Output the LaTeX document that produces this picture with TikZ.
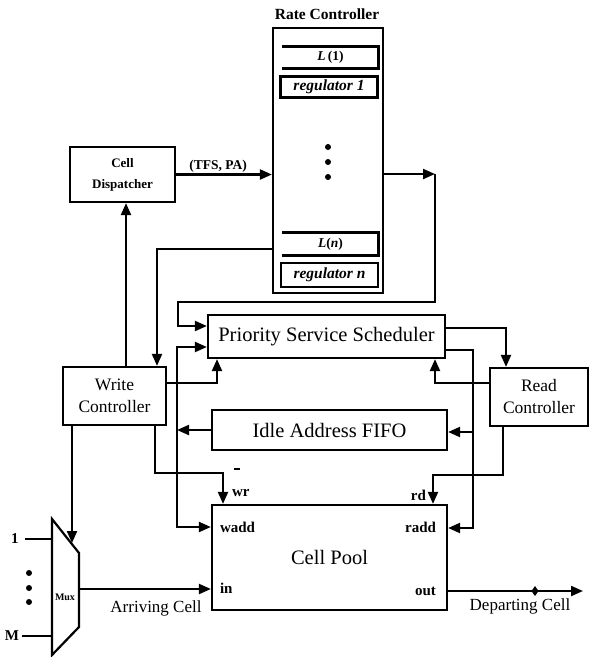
\documentclass[tikz,border=0pt]{standalone}
\usepackage{fontspec}
\setmainfont{Liberation Serif}
\usetikzlibrary{arrows.meta}
\begin{document}
\begin{tikzpicture}[x=1pt,y=-1pt,
  line width=2.1pt,
  box/.style={draw, rectangle, inner sep=0pt, line width=2.2pt, align=center},
  arr/.style={-{Triangle[length=12pt,width=10pt]}},
  lab/.style={font=\bfseries\fontsize{15}{15}\selectfont, inner sep=0pt},
  big/.style={font=\fontsize{20.5}{22}\selectfont},
  mid/.style={font=\fontsize{17.5}{22}\selectfont},
  reg/.style={box, font=\bfseries\itshape\fontsize{15.5}{15.5}\selectfont},
]
\useasboundingbox (0,0) rectangle (591,657);

% Rate controller
\node[box, minimum width=110pt, minimum height=265pt] (RC) at (328,160.5) {};
\node[font=\bfseries\fontsize{15.5}{15.5}\selectfont] (RCt) at (327,14) {Rate Controller};
\node[minimum width=94pt, minimum height=20pt, inner sep=0pt, font=\bfseries\fontsize{13.5}{13.5}\selectfont] (L1) at (330.5,57.5) {{\itshape L}\,(1)};
\draw[line width=2.2pt] (L1.north west) -- (L1.north east) -- (L1.south east) -- (L1.south west);
\node[reg, minimum width=97pt, minimum height=21pt] (R1) at (329,87) {regulator 1};
\fill (328,147) circle (3pt);
\fill (328,162) circle (3pt);
\fill (328,177) circle (3pt);
\node[minimum width=94pt, minimum height=21pt, inner sep=0pt, font=\bfseries\fontsize{13.5}{13.5}\selectfont] (Ln) at (330.5,244) {{\itshape L}({\itshape n})};
\draw[line width=2.2pt] (Ln.north west) -- (Ln.north east) -- (Ln.south east) -- (Ln.south west);
\node[reg, minimum width=97pt, minimum height=24pt] (Rn) at (329.5,275) {regulator {\itshape n}};

% Cell dispatcher
\node[box, minimum width=105pt, minimum height=55pt, font=\bfseries\fontsize{13}{21}\selectfont] (CD) at (122.5,174.5) {Cell\\Dispatcher};

% Main blocks
\node[box, big, minimum width=237pt, minimum height=43pt] (PSS) at (326.5,336.5) {Priority Service Scheduler};
\node[box, mid, minimum width=103pt, minimum height=58pt] (WC) at (114.5,396) {Write\\Controller};
\node[box, mid, minimum width=98pt, minimum height=58pt] (RdC) at (539,397) {Read\\Controller};
\node[box, big, minimum width=235pt, minimum height=40pt] (FIFO) at (329.5,430) {Idle Address FIFO};
\node[box, big, minimum width=235pt, minimum height=105pt] (CP) at (329.5,557.5) {Cell Pool};

% Cell pool port labels
\node[lab, anchor=west] (wadd) at (219,527) {wadd};
\node[lab, anchor=west] (inl) at (219,588) {in};
\node[lab, anchor=east] (radd) at (437,527) {radd};
\node[lab, anchor=east] (outl) at (437,591) {out};
\node[lab, anchor=west] (wrl) at (231,493) {wr};
\draw[line width=1.2pt] (234,469) -- (240,469);
\node[lab, anchor=east] (rdl) at (427,495) {rd};

% Mux
\draw[line width=2.2pt] (52,519) -- (79,553) -- (79,627) -- (52,655) -- cycle;
\node[font=\bfseries\fontsize{10}{10}\selectfont, inner sep=0pt] (mux) at (65,597) {Mux};
\coordinate (i1) at (25,539);
\coordinate (iM) at (22,636);
\draw (i1) -- (52,539);
\draw (iM) -- (52,636);
\node[font=\bfseries\fontsize{15}{15}\selectfont] (one) at (15,539) {1};
\node[font=\bfseries\fontsize{15}{15}\selectfont] (em) at (12,636) {M};
\fill (29,573) circle (3pt);
\fill (29,588) circle (3pt);
\fill (29,602) circle (3pt);

% Connectors
\draw[arr] (CD.east) -- (CD.east -| RC.west);
\node[font=\bfseries\fontsize{13.5}{13.5}\selectfont] (tfs) at (218,166) {(TFS, PA)};

\coordinate (c1) at (435,174);
\draw[arr] (RC.east |- c1) -- (c1);
\draw[arr] (c1) -- (435,302) -| (178,326) -- (PSS.west |- 0,326);

\draw[arr] (RC.west |- 0,249) -| (157,0 |- WC.north);
\draw[arr] (126,0 |- WC.north) -- (126,0 |- CD.south);

\coordinate (j1) at (177,430);
\draw[arr] (FIFO.west) -- (j1);
\draw[arr] (j1) |- (PSS.west |- 0,347);
\draw[arr] (j1) |- (CP.west |- 0,527);

\draw[arr] (WC.east |- 0,383) -| (217,0 |- PSS.south);
\draw[arr] (155,0 |- WC.south) -- (155,473) -| (223,0 |- CP.north);
\draw[arr] (72,0 |- WC.south) -- (72,543);

\draw[arr] (79,589) -- (CP.west |- 0,589);
\node[font=\fontsize{17}{17}\selectfont] (arrc) at (156,608) {Arriving Cell};

\draw[arr] (PSS.east |- 0,328) -| (506,0 |- RdC.north);
\coordinate (j2) at (473,432);
\draw[arr] (PSS.east |- 0,350) -| (473,528) -- (CP.east |- 0,528);
\draw[arr] (j2) -- (FIFO.east |- j2);
\draw[arr] (RdC.west |- 0,383) -| (435,0 |- PSS.south);
\draw[arr] (503,0 |- RdC.south) -- (503,475) -| (433,0 |- CP.north);

\draw[arr] (CP.east |- 0,591) -- (583,591);
\fill (535,586) -- (538.5,591) -- (535,596) -- (531.5,591) -- cycle;
\node[font=\fontsize{17}{17}\selectfont] (depc) at (520,606) {Departing Cell};
\end{tikzpicture}
\end{document}
